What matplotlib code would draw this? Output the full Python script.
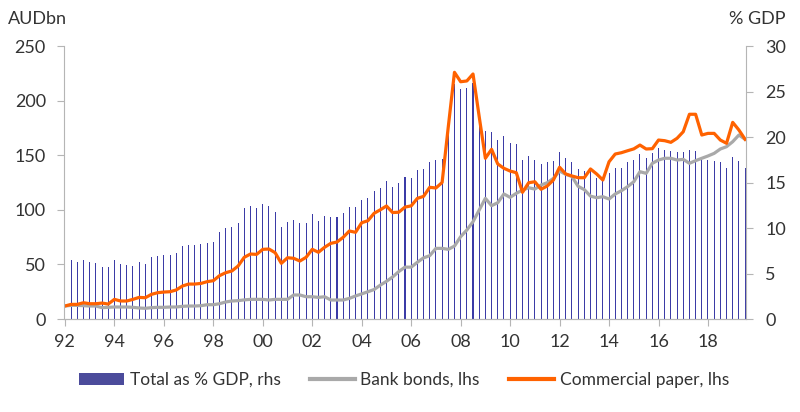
import matplotlib
matplotlib.use("Agg")
import matplotlib.pyplot as plt
import numpy as np

# quarterly data, 1992 Q1 - 2019 Q3
total_pct_gdp = [5.9, 6.5, 6.3, 6.5, 6.25, 6.15, 5.75, 5.75, 6.45, 6.05,
                 5.9, 5.8, 6.25, 6.0, 6.8, 6.95, 7.0, 7.05, 7.25, 8.0,
                 8.15, 8.15, 8.25, 8.3, 8.45, 9.55, 10.05, 10.1, 10.6, 12.2,
                 12.45, 12.2, 12.6, 12.4, 11.8, 10.1, 10.7, 10.9, 10.5, 10.5,
                 11.5, 10.8, 11.3, 11.2, 11.2, 11.6, 12.3, 12.3, 13.1, 13.3,
                 14.1, 14.4, 15.2, 14.5, 15.0, 15.6, 15.5, 16.4, 16.5, 17.2,
                 17.5, 17.6, 20.8, 25.8, 25.3, 25.4, 25.9, 22.8, 20.7, 20.6,
                 19.7, 20.1, 19.3, 19.2, 17.5, 17.9, 17.5, 17.0, 17.3, 17.4,
                 18.3, 17.7, 17.2, 16.5, 16.3, 16.3, 15.5, 15.5, 16.0, 16.6,
                 16.6, 17.2, 17.5, 18.1, 17.7, 18.2, 18.8, 18.6, 18.5, 18.3,
                 18.4, 18.6, 18.5, 17.5, 17.5, 17.4, 17.3, 16.6, 17.8, 17.4, 16.6]

bank_bonds = [11.9, 12.5, 12.5, 12.2, 11.9, 11.9, 10.4, 10.7, 11.0, 11.0,
              11.0, 10.7, 10.1, 9.8, 10.4, 10.7, 10.7, 11.0, 11.0, 11.6,
              11.9, 11.9, 12.2, 13.1, 13.1, 14.0, 15.6, 16.5, 16.8, 17.5,
              18.0, 18.0, 18.0, 17.4, 18.0, 18.0, 18.0, 22.0, 22.0, 20.4,
              20.4, 19.8, 20.4, 17.4, 17.4, 17.4, 18.9, 21.1, 23.0, 25.0,
              27.0, 31.0, 34.5, 38.5, 43.5, 47.5, 47.5, 52.0, 56.0, 58.0,
              64.7, 64.7, 63.8, 66.8, 75.4, 81.5, 89.1, 99.8, 110.5, 103.8,
              106.5, 114.5, 111.4, 115.1, 118.1, 120.2, 119.0, 122.7, 124.8, 128.8,
              135.5, 132.5, 130.5, 121.5, 118.5, 112.5, 111.1, 112.0, 109.9, 114.5,
              117.5, 121.2, 125.7, 134.9, 133.4, 142.6, 145.6, 147.2, 147.2, 145.6,
              146.2, 142.6, 145.0, 147.2, 149.3, 151.7, 155.7, 157.8, 162.4, 168.5, 164.6]

commercial_paper = [11.9, 13.4, 13.4, 14.9, 14.0, 14.0, 14.6, 13.7, 18.0, 16.5,
                    16.5, 18.0, 19.8, 19.5, 22.6, 24.1, 24.7, 25.0, 26.6, 30.2,
                    32.0, 32.0, 32.6, 34.2, 35.1, 39.7, 42.4, 44.0, 48.5, 56.5,
                    59.5, 59.2, 63.8, 64.1, 60.7, 51.0, 56.1, 55.6, 53.1, 56.5,
                    63.8, 61.1, 65.7, 69.3, 70.5, 74.8, 80.6, 79.4, 88.2, 90.0,
                    96.8, 100.0, 103.5, 97.5, 97.8, 102.5, 103.6, 110.5, 112.3, 120.6,
                    120.0, 125.0, 176.0, 225.9, 217.3, 218.0, 224.4, 185.3, 147.2, 155.4,
                    142.0, 138.0, 135.5, 134.0, 116.0, 124.8, 125.7, 118.8, 121.8, 127.3,
                    139.0, 132.8, 131.0, 129.4, 129.4, 137.4, 132.8, 127.3, 144.0, 151.1,
                    152.3, 154.1, 155.8, 159.3, 155.7, 156.0, 163.9, 163.3, 161.8, 165.5,
                    171.5, 187.5, 187.5, 168.5, 170.0, 170.0, 163.9, 160.9, 180.1, 173.1, 164.6]

year_labels = ["92", "94", "96", "98", "00", "02", "04", "06", "08",
               "10", "12", "14", "16", "18"]

plt.rcParams["font.family"] = ["Lato", "DejaVu Sans"]
txt = "#333333"
axcol = "#b5b5b5"

x = np.arange(len(total_pct_gdp))

fig = plt.figure(figsize=(8, 4.12), dpi=100)
ax = fig.add_axes([0.08, 0.2257, 0.8525, 0.6626])
ax2 = ax.twinx()

bars = ax2.bar(x, total_pct_gdp, width=0.17, color="#3b3ba6", linewidth=0,
               label="Total as % GDP, rhs")
l1, = ax.plot(x, bank_bonds, color="#a9a9a9", lw=2.3, label="Bank bonds, lhs")
l2, = ax.plot(x, commercial_paper, color="#ff6200", lw=2.3,
              label="Commercial paper, lhs")

ax.set_zorder(ax2.get_zorder() + 1)
ax.patch.set_visible(False)

ax.set_xlim(-0.15, 110.15)
ax.set_ylim(0, 250)
ax2.set_ylim(0, 30)
ax.set_yticks(range(0, 251, 50))
ax2.set_yticks(range(0, 31, 5))
ax.set_xticks(np.arange(0, 105, 8))
ax.set_xticklabels(year_labels)

for a in (ax, ax2):
    for s in a.spines.values():
        s.set_color(axcol)
    a.spines["top"].set_visible(False)
    a.tick_params(colors=axcol, labelcolor=txt, labelsize=13, length=5)
ax.spines["right"].set_visible(False)
ax2.spines["left"].set_visible(False)
ax.tick_params(axis="y", pad=8)
ax2.tick_params(axis="y", pad=9)
ax.tick_params(axis="x", pad=6)

fig.text(0.01, 0.955, "AUDbn", color=txt, fontsize=13, va="center", ha="left")
fig.text(0.982, 0.955, "% GDP", color=txt, fontsize=13, va="center", ha="right")

leg = fig.legend([bars, l1, l2],
                 ["Total as % GDP, rhs", "Bank bonds, lhs", "Commercial paper, lhs"],
                 loc="center", bbox_to_anchor=(0.505, 0.078), ncol=3, frameon=False,
                 fontsize=12.5, handlelength=2.6, handletextpad=0.3,
                 columnspacing=1.7, handleheight=0.8)
for t in leg.get_texts():
    t.set_color(txt)
leg.legend_handles[0].set_height(9)
leg.legend_handles[0].set_color("#4b4b9b")
for h in leg.legend_handles[1:]:
    h.set_linewidth(3)

fig.savefig("out.png", dpi=100)
